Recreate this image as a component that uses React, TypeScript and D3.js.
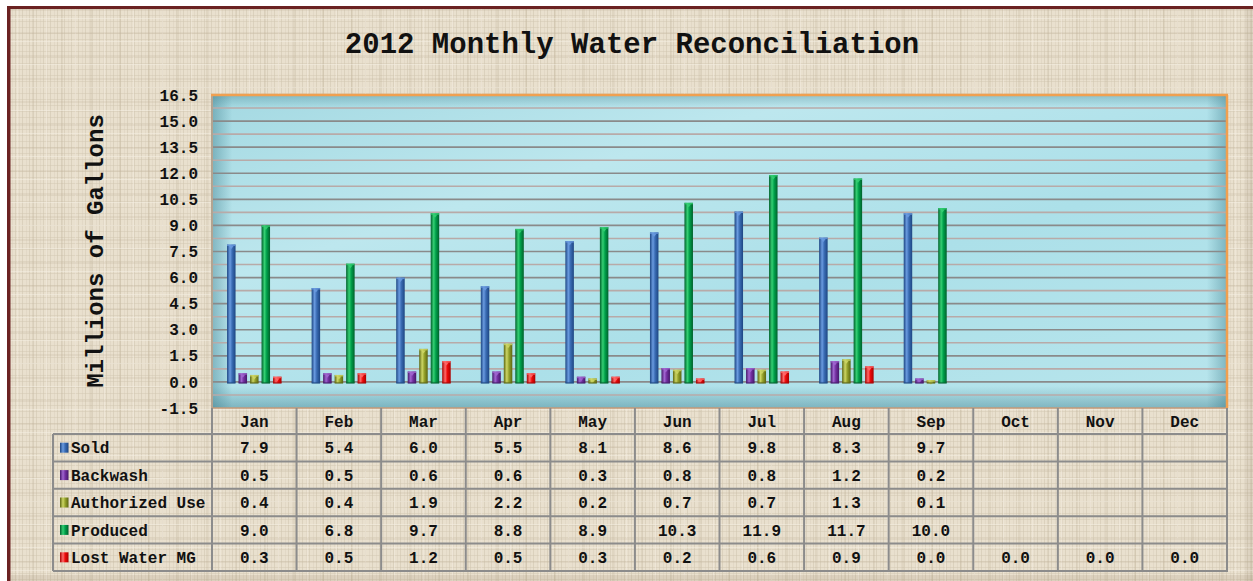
import React, { useEffect, useRef } from 'react';
import * as d3 from 'd3';

const months = ['Jan', 'Feb', 'Mar', 'Apr', 'May', 'Jun', 'Jul', 'Aug', 'Sep', 'Oct', 'Nov', 'Dec'];
const seriesNames = ['Sold', 'Backwash', 'Authorized Use', 'Produced', 'Lost Water MG'];
const sold = [7.9, 5.4, 6.0, 5.5, 8.1, 8.6, 9.8, 8.3, 9.7, null, null, null];
const backwash = [0.5, 0.5, 0.6, 0.6, 0.3, 0.8, 0.8, 1.2, 0.2, null, null, null];
const authorizedUse = [0.4, 0.4, 1.9, 2.2, 0.2, 0.7, 0.7, 1.3, 0.1, null, null, null];
const produced = [9.0, 6.8, 9.7, 8.8, 8.9, 10.3, 11.9, 11.7, 10.0, null, null, null];
const lostWater = [0.3, 0.5, 1.2, 0.5, 0.3, 0.2, 0.6, 0.9, 0.0, 0.0, 0.0, 0.0];
const yTicks = [-1.5, 0, 1.5, 3.0, 4.5, 6.0, 7.5, 9.0, 10.5, 12.0, 13.5, 15.0, 16.5];

// dark edge, highlight, body
const barShades = [
  ['#1d4682', '#6a9be0', '#3a6cb4'],
  ['#45186a', '#a066d0', '#7431a2'],
  ['#5c6612', '#cdd665', '#96a32c'],
  ['#00612c', '#35cf73', '#00a04a'],
  ['#a80000', '#ff6a6a', '#ee0a0a'],
];

const FONT = "'Liberation Mono', 'Courier New', monospace";

export default function App() {
  const svgRef = useRef<SVGSVGElement>(null);

  useEffect(() => {
    const svg = d3.select(svgRef.current);
    svg.selectAll('*').remove();

    const W = 1253;
    const H = 581;
    const plot = { left: 212, right: 1227, top: 95, bottom: 408 };
    const table = { left: 53, headerTop: 408, headerH: 26, rowH: 27.4 };
    const seriesValues = [sold, backwash, authorizedUse, produced, lostWater];

    const defs = svg.append('defs');

    // linen background texture
    const linen = defs
      .append('pattern')
      .attr('id', 'linen')
      .attr('width', 7)
      .attr('height', 6)
      .attr('patternUnits', 'userSpaceOnUse');
    linen.append('rect').attr('width', 7).attr('height', 6).attr('fill', '#e9e0ce');
    linen.append('rect').attr('x', 1).attr('width', 1).attr('height', 6).attr('fill', '#cdc2ac').attr('opacity', 0.5);
    linen.append('rect').attr('x', 5).attr('width', 1).attr('height', 6).attr('fill', '#d8cdb8').attr('opacity', 0.4);
    linen.append('rect').attr('y', 3).attr('width', 7).attr('height', 1).attr('fill', '#d1c6b0').attr('opacity', 0.45);

    const linen2 = defs
      .append('pattern')
      .attr('id', 'linen2')
      .attr('width', 29)
      .attr('height', 23)
      .attr('patternUnits', 'userSpaceOnUse');
    linen2.append('rect').attr('x', 3).attr('width', 2).attr('height', 23).attr('fill', '#b9ab92').attr('opacity', 0.22);
    linen2.append('rect').attr('x', 17).attr('width', 1).attr('height', 23).attr('fill', '#f3ecdf').attr('opacity', 0.5);
    linen2.append('rect').attr('y', 9).attr('width', 29).attr('height', 2).attr('fill', '#bcae96').attr('opacity', 0.2);
    linen2.append('rect').attr('y', 18).attr('width', 29).attr('height', 1).attr('fill', '#f5efe3').attr('opacity', 0.5);

    // water background
    const water = defs
      .append('linearGradient')
      .attr('id', 'water')
      .attr('x1', 0)
      .attr('y1', 0)
      .attr('x2', 1)
      .attr('y2', 1);
    water.append('stop').attr('offset', 0).attr('stop-color', '#a4d9e2');
    water.append('stop').attr('offset', 0.3).attr('stop-color', '#bde7ee');
    water.append('stop').attr('offset', 0.6).attr('stop-color', '#ace0e9');
    water.append('stop').attr('offset', 1).attr('stop-color', '#b8e5ec');

    const vignX = defs.append('linearGradient').attr('id', 'vignX');
    vignX.append('stop').attr('offset', 0).attr('stop-color', '#2e6f7e').attr('stop-opacity', 0.4);
    vignX.append('stop').attr('offset', 0.02).attr('stop-color', '#2e6f7e').attr('stop-opacity', 0);
    vignX.append('stop').attr('offset', 0.98).attr('stop-color', '#2e6f7e').attr('stop-opacity', 0);
    vignX.append('stop').attr('offset', 1).attr('stop-color', '#2e6f7e').attr('stop-opacity', 0.4);
    const vignY = defs
      .append('linearGradient')
      .attr('id', 'vignY')
      .attr('x1', 0)
      .attr('y1', 0)
      .attr('x2', 0)
      .attr('y2', 1);
    vignY.append('stop').attr('offset', 0).attr('stop-color', '#2e6f7e').attr('stop-opacity', 0.3);
    vignY.append('stop').attr('offset', 0.04).attr('stop-color', '#2e6f7e').attr('stop-opacity', 0);
    vignY.append('stop').attr('offset', 0.93).attr('stop-color', '#2e6f7e').attr('stop-opacity', 0);
    vignY.append('stop').attr('offset', 1).attr('stop-color', '#2e6f7e').attr('stop-opacity', 0.4);

    barShades.forEach((s, i) => {
      const g = defs.append('linearGradient').attr('id', `bar${i}`);
      g.append('stop').attr('offset', 0).attr('stop-color', s[0]);
      g.append('stop').attr('offset', 0.35).attr('stop-color', s[1]);
      g.append('stop').attr('offset', 0.6).attr('stop-color', s[2]);
      g.append('stop').attr('offset', 1).attr('stop-color', s[0]);
    });

    // page background + frame
    svg.append('rect').attr('width', W).attr('height', H).attr('fill', '#ffffff');
    svg.append('rect').attr('x', 7).attr('y', 6).attr('width', W - 7).attr('height', H - 6).attr('fill', 'url(#linen)');
    svg.append('rect').attr('x', 7).attr('y', 6).attr('width', W - 7).attr('height', H - 6).attr('fill', 'url(#linen2)');
    svg.append('rect').attr('x', 7).attr('y', 6).attr('width', 3.5).attr('height', H - 6).attr('fill', '#6b2222');
    svg.append('rect').attr('x', 7).attr('y', 6).attr('width', W - 7).attr('height', 3).attr('fill', '#6b2222');
    svg.append('rect').attr('x', W - 8).attr('y', 9).attr('width', 8).attr('height', H - 9).attr('fill', '#8a7a60').attr('opacity', 0.12);
    svg.append('rect').attr('x', 10).attr('y', H - 6).attr('width', W - 10).attr('height', 6).attr('fill', '#8a7a60').attr('opacity', 0.15);

    // title
    svg
      .append('text')
      .attr('x', 632)
      .attr('y', 53)
      .attr('text-anchor', 'middle')
      .style('font-family', FONT)
      .style('font-size', '29px')
      .style('font-weight', 'bold')
      .attr('fill', '#111')
      .text('2012 Monthly Water Reconciliation');

    // scales
    const x = d3.scaleBand<string>().domain(months).range([plot.left, plot.right]).padding(0);
    const y = d3.scaleLinear().domain([-1.5, 16.5]).range([plot.bottom, plot.top]);
    const step = 11.5;
    const inner = d3
      .scaleBand<string>()
      .domain(seriesNames)
      .range([-step * 2.5, step * 2.5])
      .padding(0);
    const barW = 8.5;

    // plot background
    const pg = svg.append('g');
    ['url(#water)', 'url(#vignX)', 'url(#vignY)'].forEach((fill) => {
      pg.append('rect')
        .attr('x', plot.left)
        .attr('y', plot.top)
        .attr('width', plot.right - plot.left)
        .attr('height', plot.bottom - plot.top)
        .attr('fill', fill);
    });

    // gridlines (minor every 0.75, major every 1.5)
    const gridVals = d3.range(-1.5, 16.5 + 1e-6, 0.75).filter((v) => v > -1.5 && v < 16.5);
    pg.selectAll('line.grid')
      .data(gridVals)
      .join('line')
      .attr('class', 'grid')
      .attr('x1', plot.left)
      .attr('x2', plot.right)
      .attr('y1', (d) => y(d))
      .attr('y2', (d) => y(d))
      .attr('stroke', (d) => (Math.abs(d / 1.5 - Math.round(d / 1.5)) < 1e-6 ? '#8a8a8a' : '#b8aaa8'))
      .attr('stroke-width', 1.6);

    // bars
    const bars = svg.append('g');
    seriesNames.forEach((name, si) => {
      const vals = seriesValues[si];
      const sg = bars.append('g');
      const dat = months
        .map((m, i) => ({ m, v: vals[i] }))
        .filter((d) => d.v !== null && (d.v as number) > 0);
      const bx = (d) => (x(d.m) as number) + x.bandwidth() / 2 + (inner(name) as number) + (step - barW) / 2;
      sg.selectAll('rect.body')
        .data(dat)
        .join('rect')
        .attr('class', 'body')
        .attr('x', bx)
        .attr('y', (d) => y(d.v as number))
        .attr('width', barW)
        .attr('height', (d) => y(0) - y(d.v as number) + 1)
        .attr('fill', `url(#bar${si})`);
      sg.selectAll('rect.cap')
        .data(dat)
        .join('rect')
        .attr('class', 'cap')
        .attr('x', bx)
        .attr('y', (d) => y(d.v as number))
        .attr('width', barW)
        .attr('height', 1.5)
        .attr('fill', barShades[si][1])
        .attr('opacity', 0.8);
      sg.selectAll('path.tip')
        .data(dat)
        .join('path')
        .attr('class', 'tip')
        .attr('d', (d) => {
          const x0 = bx(d);
          const y0 = y(d.v as number) + 1.5;
          return `M${x0 + 2},${y0} L${x0 + barW - 2},${y0} L${x0 + barW / 2},${y0 + 3} Z`;
        })
        .attr('fill', barShades[si][1])
        .attr('opacity', 0.9);
      sg.selectAll('rect.base')
        .data(dat)
        .join('rect')
        .attr('class', 'base')
        .attr('x', bx)
        .attr('y', y(0))
        .attr('width', barW)
        .attr('height', 2)
        .attr('fill', barShades[si][0])
        .attr('opacity', 0.6);
    });

    // plot border
    svg.append('line')
      .attr('x1', plot.left).attr('x2', plot.left)
      .attr('y1', plot.top).attr('y2', plot.bottom)
      .attr('stroke', '#b3a491').attr('stroke-width', 2);
    svg.append('line')
      .attr('x1', plot.left).attr('x2', plot.right)
      .attr('y1', plot.bottom).attr('y2', plot.bottom)
      .attr('stroke', '#c49a78').attr('stroke-width', 1.5);
    svg.append('line')
      .attr('x1', plot.left - 1).attr('x2', plot.right + 1)
      .attr('y1', plot.top).attr('y2', plot.top)
      .attr('stroke', '#f0a050').attr('stroke-width', 2.5);
    svg.append('line')
      .attr('x1', plot.right).attr('x2', plot.right)
      .attr('y1', plot.top).attr('y2', plot.bottom)
      .attr('stroke', '#f0a050').attr('stroke-width', 2.5);

    // y axis labels
    svg.append('g')
      .selectAll('text')
      .data(yTicks)
      .join('text')
      .attr('x', 198)
      .attr('y', (d) => y(d))
      .attr('dy', '0.35em')
      .attr('text-anchor', 'end')
      .style('font-family', FONT)
      .style('font-size', '16px')
      .style('font-weight', 'bold')
      .attr('fill', '#111')
      .text((d) => d.toFixed(1));

    svg.append('text')
      .attr('transform', 'translate(103, 251) rotate(-90)')
      .attr('text-anchor', 'middle')
      .style('font-family', FONT)
      .style('font-size', '24px')
      .style('font-weight', 'bold')
      .attr('fill', '#111')
      .text('Millions of Gallons');

    // data table
    const tg = svg.append('g');
    const rowsTop = table.headerTop + table.headerH;
    const rowsBottom = rowsTop + table.rowH * seriesNames.length;
    const lineColor = '#8c8c8c';

    tg.selectAll('text.hdr')
      .data(months)
      .join('text')
      .attr('class', 'hdr')
      .attr('x', (d) => (x(d) as number) + x.bandwidth() / 2)
      .attr('y', table.headerTop + table.headerH / 2)
      .attr('dy', '0.35em')
      .attr('text-anchor', 'middle')
      .style('font-family', FONT)
      .style('font-size', '16px')
      .style('font-weight', 'bold')
      .attr('fill', '#111')
      .text((d) => d);

    seriesNames.forEach((name, si) => {
      const ry = rowsTop + si * table.rowH;
      tg.append('rect')
        .attr('x', 60)
        .attr('y', ry + table.rowH / 2 - 5)
        .attr('width', 8.5)
        .attr('height', 10)
        .attr('fill', `url(#bar${si})`);
      tg.append('text')
        .attr('x', 71)
        .attr('y', ry + table.rowH / 2)
        .attr('dy', '0.35em')
        .style('font-family', FONT)
        .style('font-size', '16px')
        .style('font-weight', 'bold')
        .attr('fill', '#111')
        .text(name);
      tg.selectAll(`text.v${si}`)
        .data(months.map((m, i) => ({ m, v: seriesValues[si][i] })).filter((d) => d.v !== null))
        .join('text')
        .attr('class', `v${si}`)
        .attr('x', (d) => (x(d.m) as number) + x.bandwidth() / 2)
        .attr('y', ry + table.rowH / 2)
        .attr('dy', '0.35em')
        .attr('text-anchor', 'middle')
        .style('font-family', FONT)
        .style('font-size', '16px')
        .style('font-weight', 'bold')
        .attr('fill', '#111')
        .text((d) => (d.v as number).toFixed(1));
    });

    // table grid
    d3.range(seriesNames.length + 1).forEach((i) => {
      const ly = rowsTop + i * table.rowH;
      tg.append('line')
        .attr('x1', table.left).attr('x2', plot.right + 1)
        .attr('y1', ly).attr('y2', ly)
        .attr('stroke', lineColor).attr('stroke-width', 2);
    });
    tg.append('line')
      .attr('x1', table.left).attr('x2', table.left)
      .attr('y1', rowsTop).attr('y2', rowsBottom)
      .attr('stroke', lineColor).attr('stroke-width', 2);
    [...months.map((m) => x(m) as number), plot.right].forEach((lx) => {
      tg.append('line')
        .attr('x1', lx).attr('x2', lx)
        .attr('y1', table.headerTop).attr('y2', rowsBottom)
        .attr('stroke', lineColor).attr('stroke-width', 2);
    });
  }, []);

  return (
    <div style={{ position: 'absolute', left: 0, top: 0 }}>
      <svg ref={svgRef} width={1253} height={581} style={{ display: 'block' }} />
    </div>
  );
}
